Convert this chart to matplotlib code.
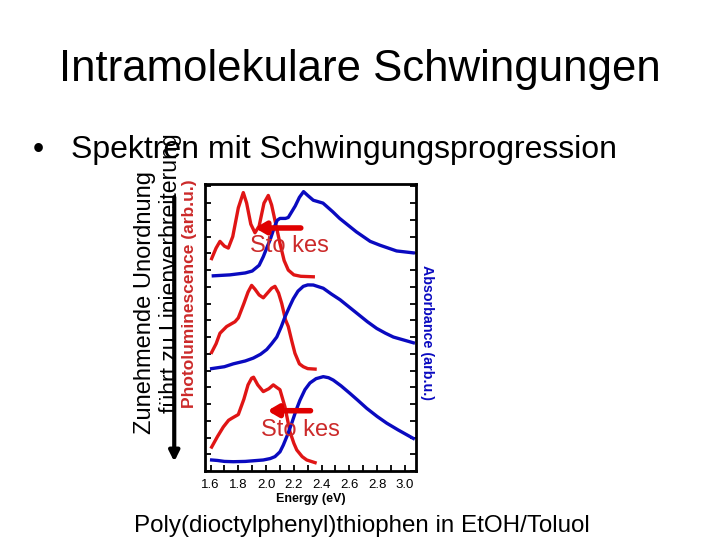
import matplotlib
matplotlib.use("Agg")
import matplotlib.pyplot as plt
from matplotlib.ticker import MultipleLocator

plt.rcParams['font.family'] = ['Liberation Sans', 'DejaVu Sans']

# Photoluminescence (red) and absorbance (blue), three stacked spectra (top, middle, bottom)
pl_top_x = [1.608, 1.64, 1.668, 1.70, 1.728, 1.76, 1.80, 1.836, 1.86, 1.89, 1.92, 1.95, 1.985, 2.016,
            2.04, 2.07, 2.10, 2.13, 2.16, 2.20, 2.25, 2.34]
pl_top_y = [2.22, 2.33, 2.40, 2.35, 2.33, 2.45, 2.75, 2.91, 2.80, 2.58, 2.49, 2.56, 2.80, 2.88,
            2.78, 2.58, 2.38, 2.20, 2.10, 2.05, 2.035, 2.03]
abs_top_x = [1.62, 1.74, 1.85, 1.90, 1.95, 1.98, 2.01, 2.03, 2.06, 2.08, 2.10, 2.14, 2.16, 2.21, 2.24,
             2.27, 2.30, 2.34, 2.41, 2.48, 2.53, 2.65, 2.75, 2.82, 2.94, 3.06]
abs_top_y = [2.04, 2.05, 2.07, 2.09, 2.15, 2.24, 2.35, 2.42, 2.55, 2.62, 2.64, 2.64, 2.65, 2.77, 2.86,
             2.92, 2.88, 2.83, 2.80, 2.71, 2.64, 2.50, 2.40, 2.36, 2.30, 2.28]

pl_mid_x = [1.608, 1.64, 1.668, 1.716, 1.776, 1.80, 1.84, 1.87, 1.896, 1.92, 1.95, 1.98, 2.01, 2.04,
            2.064, 2.09, 2.113, 2.14, 2.16, 2.185, 2.208, 2.24, 2.268, 2.30, 2.353]
pl_mid_y = [1.24, 1.33, 1.44, 1.51, 1.56, 1.60, 1.75, 1.87, 1.94, 1.90, 1.84, 1.81, 1.86, 1.91,
            1.93, 1.86, 1.75, 1.58, 1.51, 1.36, 1.23, 1.12, 1.09, 1.07, 1.065]
abs_mid_x = [1.608, 1.70, 1.764, 1.85, 1.908, 1.96, 2.005, 2.04, 2.077, 2.11, 2.136, 2.17, 2.196, 2.23,
             2.268, 2.30, 2.34, 2.412, 2.47, 2.533, 2.653, 2.73, 2.797, 2.86, 2.917, 3.061]
abs_mid_y = [1.07, 1.09, 1.12, 1.15, 1.18, 1.22, 1.27, 1.33, 1.40, 1.51, 1.61, 1.72, 1.80, 1.88,
             1.93, 1.945, 1.944, 1.91, 1.85, 1.79, 1.65, 1.56, 1.49, 1.44, 1.40, 1.34]

pl_bot_x = [1.608, 1.65, 1.692, 1.73, 1.752, 1.80, 1.84, 1.87, 1.896, 1.91, 1.94, 1.98, 2.02, 2.052,
            2.08, 2.10, 2.12, 2.136, 2.172, 2.20, 2.221, 2.26, 2.293, 2.353]
pl_bot_y = [0.25, 0.36, 0.46, 0.53, 0.55, 0.59, 0.75, 0.90, 0.97, 0.98, 0.90, 0.83, 0.86, 0.90,
            0.87, 0.85, 0.75, 0.67, 0.41, 0.29, 0.22, 0.15, 0.115, 0.087]
abs_bot_x = [1.608, 1.65, 1.70, 1.764, 1.85, 1.98, 2.03, 2.064, 2.10, 2.124, 2.155, 2.185, 2.215, 2.244,
             2.28, 2.316, 2.36, 2.412, 2.45, 2.484, 2.54, 2.605, 2.66, 2.725, 2.80, 2.869, 2.95, 3.061]
abs_bot_y = [0.115, 0.11, 0.10, 0.097, 0.10, 0.115, 0.13, 0.15, 0.20, 0.27, 0.38, 0.50, 0.63, 0.74,
             0.85, 0.92, 0.965, 0.986, 0.975, 0.95, 0.89, 0.81, 0.74, 0.655, 0.57, 0.50, 0.43, 0.34]

x_ticks = [1.6, 1.8, 2.0, 2.2, 2.4, 2.6, 2.8, 3.0]
x_tick_labels = ["1.6", "1.8", "2.0", "2.2", "2.4", "2.6", "2.8", "3.0"]

RED = "#e01515"
BLUE = "#0a0ac0"
TXTRED = "#cc2a2a"

fig = plt.figure(figsize=(7.2, 5.4), dpi=100)
fig.patch.set_facecolor("white")

ax = fig.add_axes([0.2847, 0.1278, 0.2931, 0.5315])
for xs, ys in [(pl_top_x, pl_top_y), (pl_mid_x, pl_mid_y), (pl_bot_x, pl_bot_y)]:
    ax.plot(xs, ys, color=RED, lw=2.4, solid_joinstyle="round")
for xs, ys in [(abs_top_x, abs_top_y), (abs_mid_x, abs_mid_y), (abs_bot_x, abs_bot_y)]:
    ax.plot(xs, ys, color=BLUE, lw=2.4, solid_joinstyle="round")

ax.set_xlim(1.56, 3.08)
ax.set_ylim(0, 3)
ax.set_xticks(x_ticks)
ax.set_xticklabels(x_tick_labels, fontsize=9.5)
ax.xaxis.set_minor_locator(MultipleLocator(0.1))
ax.yaxis.set_major_locator(MultipleLocator(0.175))
ax.tick_params(axis="x", which="both", direction="in", length=4, width=1.3, pad=6, top=False)
ax.tick_params(axis="y", which="both", direction="in", length=4, width=1.3, left=True, right=True,
               labelleft=False)
for s in ax.spines.values():
    s.set_linewidth(2)
ax.set_xlabel("Energy (eV)", fontsize=9, fontweight="bold", labelpad=1)
ax.set_ylabel("Photoluminescence (arb.u.)", fontsize=12.5, fontweight="bold", color=TXTRED)
ax.yaxis.set_label_coords(-0.036, 0.617)
ax.text(1.052, 0.484, "Absorbance (arb.u.)", transform=ax.transAxes, rotation=-90, ha="center",
        va="center", fontsize=10.3, fontweight="bold", color=BLUE)

# Stokes shift arrows and labels
ax.annotate("", xy=(1.90, 2.54), xytext=(2.27, 2.54),
            arrowprops=dict(arrowstyle="-|>,head_length=0.6,head_width=0.35", color="#e00000", lw=4))
ax.text(2.165, 2.35, "Sto kes", ha="center", va="center", fontsize=17, color=TXTRED)
ax.annotate("", xy=(1.99, 0.63), xytext=(2.34, 0.63),
            arrowprops=dict(arrowstyle="-|>,head_length=0.6,head_width=0.35", color="#e00000", lw=4))
ax.text(2.245, 0.43, "Sto kes", ha="center", va="center", fontsize=17, color=TXTRED)

# slide texts
fig.text(0.5, 0.872, "Intramolekulare Schwingungen", ha="center", va="center", fontsize=31.5)
fig.text(0.045, 0.722, "\u2022", ha="left", va="center", fontsize=23)
fig.text(0.098, 0.722, "Spektren mit Schwingungsprogression", ha="left", va="center", fontsize=23)
fig.text(0.201, 0.44, "Zunehmende Unordnung", rotation=90, ha="center", va="center", fontsize=17)
fig.text(0.237, 0.495, "führt zu Linienverbreiterung", rotation=90, ha="center", va="center", fontsize=16.6)
ax.annotate("", xy=(0.242, 0.14), xytext=(0.242, 0.64), xycoords="figure fraction",
            textcoords="figure fraction", annotation_clip=False,
            arrowprops=dict(arrowstyle="-|>,head_length=0.6,head_width=0.3", color="black", lw=3))
fig.text(0.502, 0.026, "Poly(dioctylphenyl)thiophen in EtOH/Toluol", ha="center", va="center", fontsize=17.4)

fig.savefig("out.png", dpi=100)
